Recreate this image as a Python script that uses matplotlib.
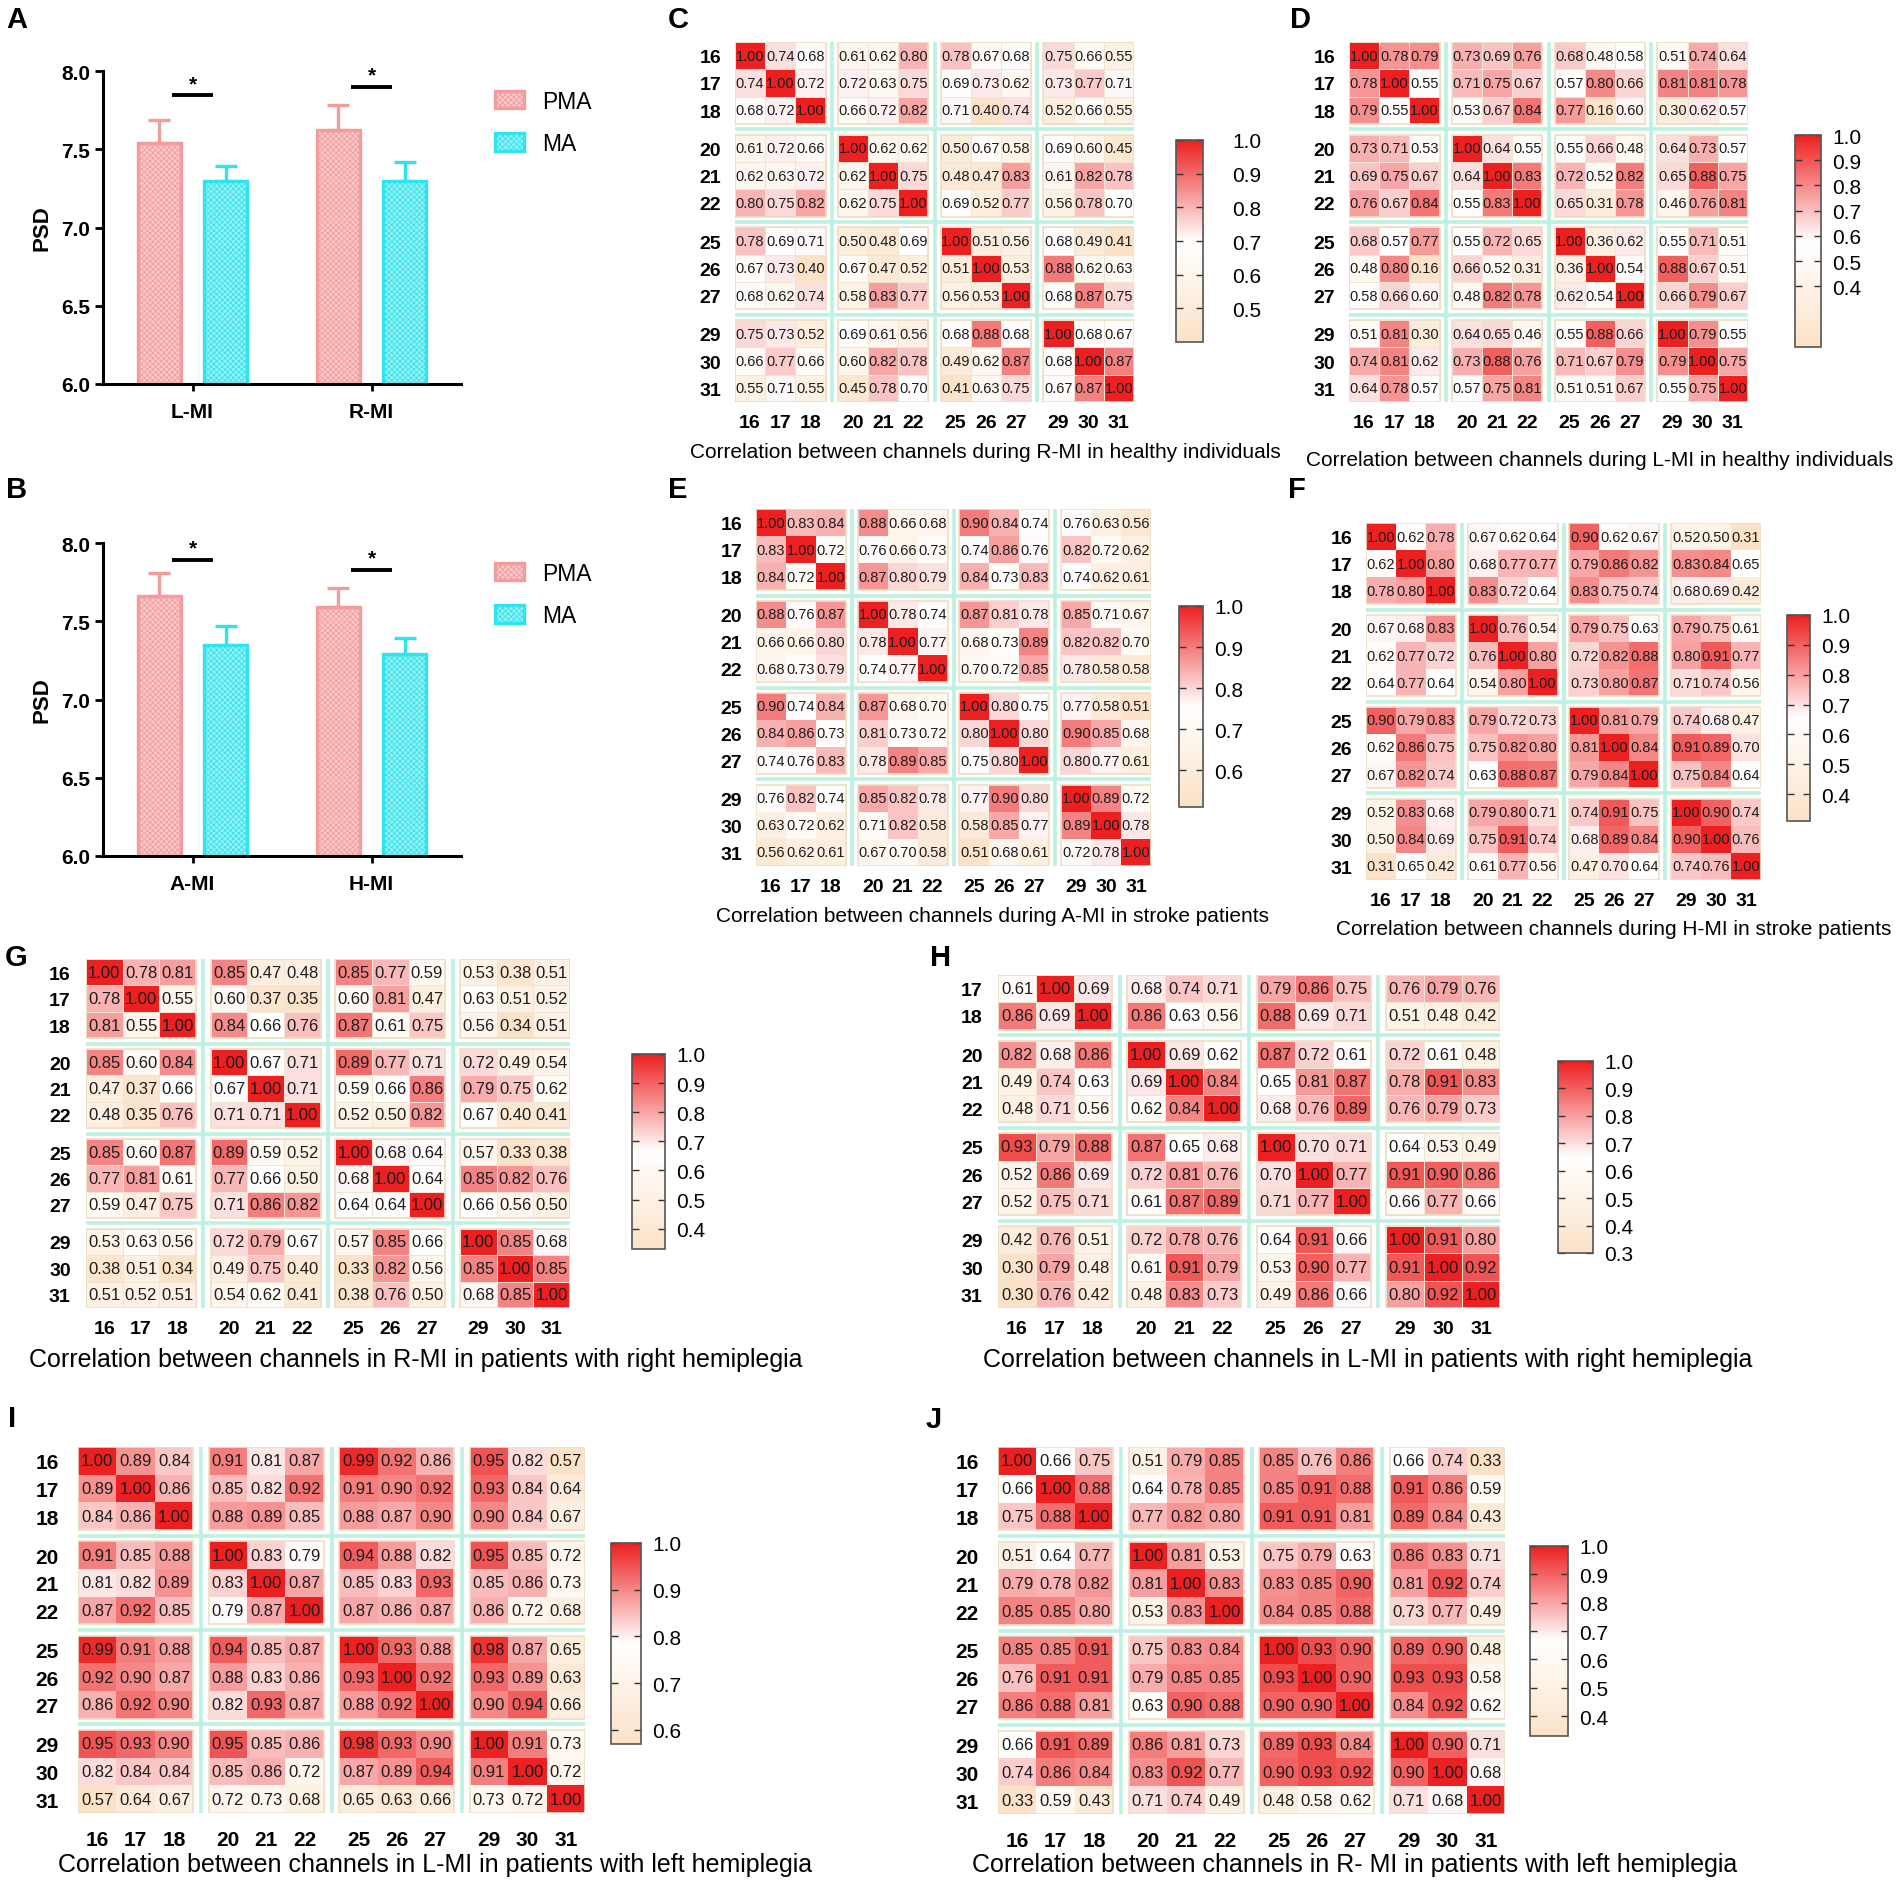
import numpy as np
import matplotlib
matplotlib.use('Agg')
import matplotlib.pyplot as plt
from matplotlib.colors import LinearSegmentedColormap, Normalize
from matplotlib.patches import Rectangle

plt.rcParams['font.family'] = ['Liberation Sans', 'DejaVu Sans']
plt.rcParams['hatch.linewidth'] = 0.6

W, H = 1902, 1883

# PSD bar charts
a_groups = ['L-MI', 'R-MI']
a_pma = [7.54, 7.62]
a_pma_err = [0.15, 0.16]
a_ma = [7.30, 7.30]
a_ma_err = [0.09, 0.12]
a_sig = [7.845, 7.90]

b_groups = ['A-MI', 'H-MI']
b_pma = [7.66, 7.59]
b_pma_err = [0.15, 0.12]
b_ma = [7.35, 7.29]
b_ma_err = [0.12, 0.10]
b_sig = [7.89, 7.83]

channels = [16, 17, 18, 20, 21, 22, 25, 26, 27, 29, 30, 31]
h_rows = [17, 18, 20, 21, 22, 25, 26, 27, 29, 30, 31]

# R-MI, healthy
corr_c = [
    [1.00, 0.74, 0.68, 0.61, 0.62, 0.80, 0.78, 0.67, 0.68, 0.75, 0.66, 0.55],
    [0.74, 1.00, 0.72, 0.72, 0.63, 0.75, 0.69, 0.73, 0.62, 0.73, 0.77, 0.71],
    [0.68, 0.72, 1.00, 0.66, 0.72, 0.82, 0.71, 0.40, 0.74, 0.52, 0.66, 0.55],
    [0.61, 0.72, 0.66, 1.00, 0.62, 0.62, 0.50, 0.67, 0.58, 0.69, 0.60, 0.45],
    [0.62, 0.63, 0.72, 0.62, 1.00, 0.75, 0.48, 0.47, 0.83, 0.61, 0.82, 0.78],
    [0.80, 0.75, 0.82, 0.62, 0.75, 1.00, 0.69, 0.52, 0.77, 0.56, 0.78, 0.70],
    [0.78, 0.69, 0.71, 0.50, 0.48, 0.69, 1.00, 0.51, 0.56, 0.68, 0.49, 0.41],
    [0.67, 0.73, 0.40, 0.67, 0.47, 0.52, 0.51, 1.00, 0.53, 0.88, 0.62, 0.63],
    [0.68, 0.62, 0.74, 0.58, 0.83, 0.77, 0.56, 0.53, 1.00, 0.68, 0.87, 0.75],
    [0.75, 0.73, 0.52, 0.69, 0.61, 0.56, 0.68, 0.88, 0.68, 1.00, 0.68, 0.67],
    [0.66, 0.77, 0.66, 0.60, 0.82, 0.78, 0.49, 0.62, 0.87, 0.68, 1.00, 0.87],
    [0.55, 0.71, 0.55, 0.45, 0.78, 0.70, 0.41, 0.63, 0.75, 0.67, 0.87, 1.00],
]

# L-MI, healthy
corr_d = [
    [1.00, 0.78, 0.79, 0.73, 0.69, 0.76, 0.68, 0.48, 0.58, 0.51, 0.74, 0.64],
    [0.78, 1.00, 0.55, 0.71, 0.75, 0.67, 0.57, 0.80, 0.66, 0.81, 0.81, 0.78],
    [0.79, 0.55, 1.00, 0.53, 0.67, 0.84, 0.77, 0.16, 0.60, 0.30, 0.62, 0.57],
    [0.73, 0.71, 0.53, 1.00, 0.64, 0.55, 0.55, 0.66, 0.48, 0.64, 0.73, 0.57],
    [0.69, 0.75, 0.67, 0.64, 1.00, 0.83, 0.72, 0.52, 0.82, 0.65, 0.88, 0.75],
    [0.76, 0.67, 0.84, 0.55, 0.83, 1.00, 0.65, 0.31, 0.78, 0.46, 0.76, 0.81],
    [0.68, 0.57, 0.77, 0.55, 0.72, 0.65, 1.00, 0.36, 0.62, 0.55, 0.71, 0.51],
    [0.48, 0.80, 0.16, 0.66, 0.52, 0.31, 0.36, 1.00, 0.54, 0.88, 0.67, 0.51],
    [0.58, 0.66, 0.60, 0.48, 0.82, 0.78, 0.62, 0.54, 1.00, 0.66, 0.79, 0.67],
    [0.51, 0.81, 0.30, 0.64, 0.65, 0.46, 0.55, 0.88, 0.66, 1.00, 0.79, 0.55],
    [0.74, 0.81, 0.62, 0.73, 0.88, 0.76, 0.71, 0.67, 0.79, 0.79, 1.00, 0.75],
    [0.64, 0.78, 0.57, 0.57, 0.75, 0.81, 0.51, 0.51, 0.67, 0.55, 0.75, 1.00],
]

# A-MI, stroke
corr_e = [
    [1.00, 0.83, 0.84, 0.88, 0.66, 0.68, 0.90, 0.84, 0.74, 0.76, 0.63, 0.56],
    [0.83, 1.00, 0.72, 0.76, 0.66, 0.73, 0.74, 0.86, 0.76, 0.82, 0.72, 0.62],
    [0.84, 0.72, 1.00, 0.87, 0.80, 0.79, 0.84, 0.73, 0.83, 0.74, 0.62, 0.61],
    [0.88, 0.76, 0.87, 1.00, 0.78, 0.74, 0.87, 0.81, 0.78, 0.85, 0.71, 0.67],
    [0.66, 0.66, 0.80, 0.78, 1.00, 0.77, 0.68, 0.73, 0.89, 0.82, 0.82, 0.70],
    [0.68, 0.73, 0.79, 0.74, 0.77, 1.00, 0.70, 0.72, 0.85, 0.78, 0.58, 0.58],
    [0.90, 0.74, 0.84, 0.87, 0.68, 0.70, 1.00, 0.80, 0.75, 0.77, 0.58, 0.51],
    [0.84, 0.86, 0.73, 0.81, 0.73, 0.72, 0.80, 1.00, 0.80, 0.90, 0.85, 0.68],
    [0.74, 0.76, 0.83, 0.78, 0.89, 0.85, 0.75, 0.80, 1.00, 0.80, 0.77, 0.61],
    [0.76, 0.82, 0.74, 0.85, 0.82, 0.78, 0.77, 0.90, 0.80, 1.00, 0.89, 0.72],
    [0.63, 0.72, 0.62, 0.71, 0.82, 0.58, 0.58, 0.85, 0.77, 0.89, 1.00, 0.78],
    [0.56, 0.62, 0.61, 0.67, 0.70, 0.58, 0.51, 0.68, 0.61, 0.72, 0.78, 1.00],
]

# H-MI, stroke
corr_f = [
    [1.00, 0.62, 0.78, 0.67, 0.62, 0.64, 0.90, 0.62, 0.67, 0.52, 0.50, 0.31],
    [0.62, 1.00, 0.80, 0.68, 0.77, 0.77, 0.79, 0.86, 0.82, 0.83, 0.84, 0.65],
    [0.78, 0.80, 1.00, 0.83, 0.72, 0.64, 0.83, 0.75, 0.74, 0.68, 0.69, 0.42],
    [0.67, 0.68, 0.83, 1.00, 0.76, 0.54, 0.79, 0.75, 0.63, 0.79, 0.75, 0.61],
    [0.62, 0.77, 0.72, 0.76, 1.00, 0.80, 0.72, 0.82, 0.88, 0.80, 0.91, 0.77],
    [0.64, 0.77, 0.64, 0.54, 0.80, 1.00, 0.73, 0.80, 0.87, 0.71, 0.74, 0.56],
    [0.90, 0.79, 0.83, 0.79, 0.72, 0.73, 1.00, 0.81, 0.79, 0.74, 0.68, 0.47],
    [0.62, 0.86, 0.75, 0.75, 0.82, 0.80, 0.81, 1.00, 0.84, 0.91, 0.89, 0.70],
    [0.67, 0.82, 0.74, 0.63, 0.88, 0.87, 0.79, 0.84, 1.00, 0.75, 0.84, 0.64],
    [0.52, 0.83, 0.68, 0.79, 0.80, 0.71, 0.74, 0.91, 0.75, 1.00, 0.90, 0.74],
    [0.50, 0.84, 0.69, 0.75, 0.91, 0.74, 0.68, 0.89, 0.84, 0.90, 1.00, 0.76],
    [0.31, 0.65, 0.42, 0.61, 0.77, 0.56, 0.47, 0.70, 0.64, 0.74, 0.76, 1.00],
]

# R-MI, right hemiplegia
corr_g = [
    [1.00, 0.78, 0.81, 0.85, 0.47, 0.48, 0.85, 0.77, 0.59, 0.53, 0.38, 0.51],
    [0.78, 1.00, 0.55, 0.60, 0.37, 0.35, 0.60, 0.81, 0.47, 0.63, 0.51, 0.52],
    [0.81, 0.55, 1.00, 0.84, 0.66, 0.76, 0.87, 0.61, 0.75, 0.56, 0.34, 0.51],
    [0.85, 0.60, 0.84, 1.00, 0.67, 0.71, 0.89, 0.77, 0.71, 0.72, 0.49, 0.54],
    [0.47, 0.37, 0.66, 0.67, 1.00, 0.71, 0.59, 0.66, 0.86, 0.79, 0.75, 0.62],
    [0.48, 0.35, 0.76, 0.71, 0.71, 1.00, 0.52, 0.50, 0.82, 0.67, 0.40, 0.41],
    [0.85, 0.60, 0.87, 0.89, 0.59, 0.52, 1.00, 0.68, 0.64, 0.57, 0.33, 0.38],
    [0.77, 0.81, 0.61, 0.77, 0.66, 0.50, 0.68, 1.00, 0.64, 0.85, 0.82, 0.76],
    [0.59, 0.47, 0.75, 0.71, 0.86, 0.82, 0.64, 0.64, 1.00, 0.66, 0.56, 0.50],
    [0.53, 0.63, 0.56, 0.72, 0.79, 0.67, 0.57, 0.85, 0.66, 1.00, 0.85, 0.68],
    [0.38, 0.51, 0.34, 0.49, 0.75, 0.40, 0.33, 0.82, 0.56, 0.85, 1.00, 0.85],
    [0.51, 0.52, 0.51, 0.54, 0.62, 0.41, 0.38, 0.76, 0.50, 0.68, 0.85, 1.00],
]

# L-MI, right hemiplegia (rows 17..31)
corr_h = [
    [0.61, 1.00, 0.69, 0.68, 0.74, 0.71, 0.79, 0.86, 0.75, 0.76, 0.79, 0.76],
    [0.86, 0.69, 1.00, 0.86, 0.63, 0.56, 0.88, 0.69, 0.71, 0.51, 0.48, 0.42],
    [0.82, 0.68, 0.86, 1.00, 0.69, 0.62, 0.87, 0.72, 0.61, 0.72, 0.61, 0.48],
    [0.49, 0.74, 0.63, 0.69, 1.00, 0.84, 0.65, 0.81, 0.87, 0.78, 0.91, 0.83],
    [0.48, 0.71, 0.56, 0.62, 0.84, 1.00, 0.68, 0.76, 0.89, 0.76, 0.79, 0.73],
    [0.93, 0.79, 0.88, 0.87, 0.65, 0.68, 1.00, 0.70, 0.71, 0.64, 0.53, 0.49],
    [0.52, 0.86, 0.69, 0.72, 0.81, 0.76, 0.70, 1.00, 0.77, 0.91, 0.90, 0.86],
    [0.52, 0.75, 0.71, 0.61, 0.87, 0.89, 0.71, 0.77, 1.00, 0.66, 0.77, 0.66],
    [0.42, 0.76, 0.51, 0.72, 0.78, 0.76, 0.64, 0.91, 0.66, 1.00, 0.91, 0.80],
    [0.30, 0.79, 0.48, 0.61, 0.91, 0.79, 0.53, 0.90, 0.77, 0.91, 1.00, 0.92],
    [0.30, 0.76, 0.42, 0.48, 0.83, 0.73, 0.49, 0.86, 0.66, 0.80, 0.92, 1.00],
]

# L-MI, left hemiplegia
corr_i = [
    [1.00, 0.89, 0.84, 0.91, 0.81, 0.87, 0.99, 0.92, 0.86, 0.95, 0.82, 0.57],
    [0.89, 1.00, 0.86, 0.85, 0.82, 0.92, 0.91, 0.90, 0.92, 0.93, 0.84, 0.64],
    [0.84, 0.86, 1.00, 0.88, 0.89, 0.85, 0.88, 0.87, 0.90, 0.90, 0.84, 0.67],
    [0.91, 0.85, 0.88, 1.00, 0.83, 0.79, 0.94, 0.88, 0.82, 0.95, 0.85, 0.72],
    [0.81, 0.82, 0.89, 0.83, 1.00, 0.87, 0.85, 0.83, 0.93, 0.85, 0.86, 0.73],
    [0.87, 0.92, 0.85, 0.79, 0.87, 1.00, 0.87, 0.86, 0.87, 0.86, 0.72, 0.68],
    [0.99, 0.91, 0.88, 0.94, 0.85, 0.87, 1.00, 0.93, 0.88, 0.98, 0.87, 0.65],
    [0.92, 0.90, 0.87, 0.88, 0.83, 0.86, 0.93, 1.00, 0.92, 0.93, 0.89, 0.63],
    [0.86, 0.92, 0.90, 0.82, 0.93, 0.87, 0.88, 0.92, 1.00, 0.90, 0.94, 0.66],
    [0.95, 0.93, 0.90, 0.95, 0.85, 0.86, 0.98, 0.93, 0.90, 1.00, 0.91, 0.73],
    [0.82, 0.84, 0.84, 0.85, 0.86, 0.72, 0.87, 0.89, 0.94, 0.91, 1.00, 0.72],
    [0.57, 0.64, 0.67, 0.72, 0.73, 0.68, 0.65, 0.63, 0.66, 0.73, 0.72, 1.00],
]

# R-MI, left hemiplegia
corr_j = [
    [1.00, 0.66, 0.75, 0.51, 0.79, 0.85, 0.85, 0.76, 0.86, 0.66, 0.74, 0.33],
    [0.66, 1.00, 0.88, 0.64, 0.78, 0.85, 0.85, 0.91, 0.88, 0.91, 0.86, 0.59],
    [0.75, 0.88, 1.00, 0.77, 0.82, 0.80, 0.91, 0.91, 0.81, 0.89, 0.84, 0.43],
    [0.51, 0.64, 0.77, 1.00, 0.81, 0.53, 0.75, 0.79, 0.63, 0.86, 0.83, 0.71],
    [0.79, 0.78, 0.82, 0.81, 1.00, 0.83, 0.83, 0.85, 0.90, 0.81, 0.92, 0.74],
    [0.85, 0.85, 0.80, 0.53, 0.83, 1.00, 0.84, 0.85, 0.88, 0.73, 0.77, 0.49],
    [0.85, 0.85, 0.91, 0.75, 0.83, 0.84, 1.00, 0.93, 0.90, 0.89, 0.90, 0.48],
    [0.76, 0.91, 0.91, 0.79, 0.85, 0.85, 0.93, 1.00, 0.90, 0.93, 0.93, 0.58],
    [0.86, 0.88, 0.81, 0.63, 0.90, 0.88, 0.90, 0.90, 1.00, 0.84, 0.92, 0.62],
    [0.66, 0.91, 0.89, 0.86, 0.81, 0.73, 0.89, 0.93, 0.84, 1.00, 0.90, 0.71],
    [0.74, 0.86, 0.84, 0.83, 0.92, 0.77, 0.90, 0.93, 0.92, 0.90, 1.00, 0.68],
    [0.33, 0.59, 0.43, 0.71, 0.74, 0.49, 0.48, 0.58, 0.62, 0.71, 0.68, 1.00],
]

GAP = 0.4
cmap = LinearSegmentedColormap.from_list('pwr', ['#fbe2c8', '#ffffff', '#ec2020'])

fig = plt.figure(figsize=(W / 100, H / 100), dpi=100)


def rect(l, t, r, b):
    return [l / W, 1 - b / H, (r - l) / W, (b - t) / H]


def letter(s, x, y):
    fig.text(x / W, 1 - y / H, s, fontsize=21, fontweight='bold', ha='left', va='center')


def bars(box, groups, pma, pma_err, ma, ma_err, sig):
    ax = fig.add_axes(rect(*box))
    x = np.arange(len(groups))
    w, off = 0.24, 0.185
    pink, pink_face = '#f39c9c', '#f9c8c8'
    cyan, cyan_face = '#2fe4ee', '#98f0f4'
    ax.bar(x - off, pma, w, color=pink_face, edgecolor=pink, hatch='xxxxxx', lw=2.4, label='PMA')
    ax.bar(x + off, ma, w, color=cyan_face, edgecolor=cyan, hatch='xxxxxx', lw=2.4, label='MA')
    ax.errorbar(x - off, pma, yerr=[np.zeros(len(x)), pma_err], fmt='none', ecolor=pink,
                elinewidth=2.4, capsize=8, capthick=2.4)
    ax.errorbar(x + off, ma, yerr=[np.zeros(len(x)), ma_err], fmt='none', ecolor=cyan,
                elinewidth=2.4, capsize=8, capthick=2.4)
    for xc, sy in zip(x, sig):
        ax.plot([xc - 0.115, xc + 0.115], [sy, sy], color='black', lw=2.8, solid_capstyle='butt')
        ax.text(xc, sy + 0.015, '*', ha='center', va='bottom', fontsize=15, fontweight='bold')
    ax.set_xlim(-0.5, 1.5)
    ax.set_ylim(6.0, 8.0)
    ax.set_yticks(np.arange(6.0, 8.01, 0.5))
    ax.set_yticklabels([f'{v:.1f}' for v in np.arange(6.0, 8.01, 0.5)], fontweight='bold')
    ax.set_xticks(x)
    ax.set_xticklabels(groups, fontweight='bold')
    ax.tick_params(axis='y', length=6, width=2, labelsize=15, pad=3)
    ax.tick_params(axis='x', length=5, width=2, labelsize=15, pad=8)
    for sp in ['top', 'right']:
        ax.spines[sp].set_visible(False)
    for sp in ['left', 'bottom']:
        ax.spines[sp].set_linewidth(2.2)
    ax.set_ylabel('PSD', fontsize=16, fontweight='bold')
    ax.yaxis.set_label_coords(-0.14, 0.5)
    ax.legend(loc='upper left', bbox_to_anchor=(1.07, 0.97), frameon=False, fontsize=16.5,
              handlelength=1.25, handleheight=0.8, labelspacing=0.85, handletextpad=0.8,
              borderaxespad=0)


def heatmap(mat, rows, box, cbox, cticks, caption, cap_xy, cap_size, num_size, tick_size,
            xpad, ypad, cpad, grid):
    mat = np.array(mat)
    ax = fig.add_axes(rect(*box))
    norm = Normalize(vmin=mat.min(), vmax=1.0)
    xg = np.array([channels.index(c) // 3 for c in channels])
    yg = np.array([channels.index(c) // 3 for c in rows])
    xs = np.arange(len(channels)) + GAP * xg
    ys = np.arange(len(rows)) + GAP * yg
    mesh = None
    for gi in range(4):
        ri = np.where(yg == gi)[0]
        for gj in range(4):
            ci = np.where(xg == gj)[0]
            sub = mat[np.ix_(ri, ci)]
            xe = np.append(xs[ci], xs[ci][-1] + 1)
            ye = np.append(ys[ri], ys[ri][-1] + 1)
            if grid:
                mesh = ax.pcolormesh(xe, ye, sub, cmap=cmap, norm=norm,
                                     edgecolors='#efe5d2', linewidth=0.7)
            else:
                mesh = ax.pcolormesh(xe, ye, sub, cmap=cmap, norm=norm)
            ax.add_patch(Rectangle((xe[0], ye[0]), xe[-1] - xe[0], ye[-1] - ye[0],
                                   fill=False, ec='#ece0c6', lw=1.2))
    for i in range(len(rows)):
        for j in range(len(channels)):
            ax.text(xs[j] + 0.5, ys[i] + 0.5, f'{mat[i, j]:.2f}', ha='center', va='center',
                    fontsize=num_size, color='#1c1c1c')
    for g in range(1, 4):
        ax.axvline(xs[np.where(xg == g)[0][0]] - GAP / 2, color='#bdf1e0', lw=2.6)
        ax.axhline(ys[np.where(yg == g)[0][0]] - GAP / 2, color='#bdf1e0', lw=2.6)
    ax.set_xlim(0, xs[-1] + 1)
    ax.set_ylim(ys[-1] + 1, 0)
    ax.set_xticks(xs + 0.5)
    ax.set_xticklabels([str(c) for c in channels], fontweight='bold')
    ax.set_yticks(ys + 0.5)
    ax.set_yticklabels([str(r) for r in rows], fontweight='bold')
    ax.tick_params(axis='x', length=0, labelsize=tick_size, pad=xpad)
    ax.tick_params(axis='y', length=0, labelsize=tick_size, pad=ypad)
    for sp in ax.spines.values():
        sp.set_visible(False)

    cax = fig.add_axes(rect(*cbox))
    cb = fig.colorbar(mesh, cax=cax, ticks=cticks)
    cb.ax.set_yticklabels([f'{t:.1f}' for t in cticks])
    cb.ax.tick_params(direction='in', left=True, right=True, length=5, width=1,
                      labelsize=15, pad=cpad, color='#333333')
    cb.outline.set_edgecolor('#555555')
    cb.outline.set_linewidth(1.2)

    fig.text(cap_xy[0] / W, 1 - cap_xy[1] / H, caption, fontsize=cap_size,
             ha='center', va='center')


# A, B bar charts
bars((103, 72, 461, 385), a_groups, a_pma, a_pma_err, a_ma, a_ma_err, a_sig)
letter('A', 6, 20)
bars((103, 544, 461, 857), b_groups, b_pma, b_pma_err, b_ma, b_ma_err, b_sig)
letter('B', 6, 490)

t5 = [0.5, 0.6, 0.7, 0.8, 0.9, 1.0]
t4 = [0.4, 0.5, 0.6, 0.7, 0.8, 0.9, 1.0]
t6 = [0.6, 0.7, 0.8, 0.9, 1.0]
t3 = [0.3, 0.4, 0.5, 0.6, 0.7, 0.8, 0.9, 1.0]

heatmap(corr_c, channels, (735, 43, 1134, 403), (1176, 141, 1203, 343), t5,
        'Correlation between channels during R-MI in healthy individuals', (985, 453),
        15, 10.5, 14, 9, 10, 21, True)
letter('C', 668, 20)

heatmap(corr_d, channels, (1349, 43, 1748, 403), (1795, 136, 1821, 348), t4,
        'Correlation between channels during L-MI in healthy individuals', (1600, 460),
        15, 10.5, 14, 9, 10, 8, True)
letter('D', 1290, 20)

heatmap(corr_e, channels, (756, 510, 1151, 867), (1179, 607, 1203, 808), t6,
        'Correlation between channels during A-MI in stroke patients', (992, 917),
        15, 10.5, 14, 9, 10, 8, False)
letter('E', 668, 490)

heatmap(corr_f, channels, (1366, 524, 1761, 881), (1787, 616, 1810, 822), t4,
        'Correlation between channels during H-MI in stroke patients', (1614, 930),
        15, 10.5, 14, 9, 10, 8, False)
letter('F', 1288, 490)

heatmap(corr_g, channels, (86, 960, 570, 1309), (632, 1055, 665, 1250), t4,
        'Correlation between channels in R-MI in patients with right hemiplegia', (416, 1360),
        18, 12, 14, 9, 11, 8, True)
letter('G', 5, 958)

heatmap(corr_h, h_rows, (998, 976, 1500, 1309), (1558, 1062, 1593, 1254), t3,
        'Correlation between channels in L-MI in patients with right hemiplegia', (1368, 1360),
        18, 12, 14, 9, 11, 8, True)
letter('H', 930, 958)

heatmap(corr_i, channels, (78, 1448, 585, 1814), (611, 1544, 641, 1745), t6,
        'Correlation between channels in L-MI in patients with left hemiplegia', (435, 1865),
        18, 12, 15, 12, 14, 8, False)
letter('I', 8, 1419)

heatmap(corr_j, channels, (998, 1448, 1505, 1815), (1530, 1547, 1568, 1737), t4,
        'Correlation between channels in R- MI in patients with left hemiplegia', (1355, 1865),
        18, 12, 15, 12, 14, 8, False)
letter('J', 926, 1420)

fig.savefig('out.png', dpi=100)
